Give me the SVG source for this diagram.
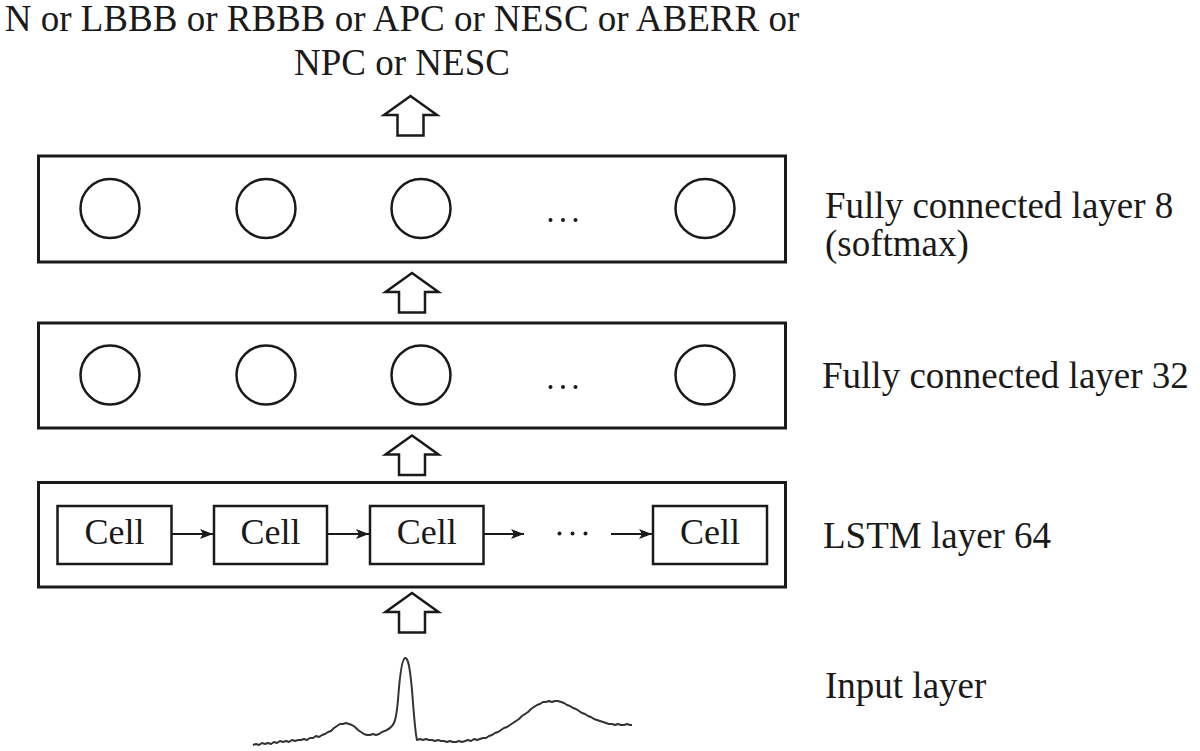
<svg xmlns="http://www.w3.org/2000/svg" width="1200" height="751" viewBox="0 0 1200 751">
<style>
.box{fill:none;stroke:#1a1a1a;stroke-width:3}
.cell{fill:none;stroke:#1a1a1a;stroke-width:2.5}
.neuron{fill:none;stroke:#1a1a1a;stroke-width:2.5}
.t{font-family:"Liberation Serif","Times New Roman",serif;fill:#1a1a1a;font-size:37px}
.ct{font-family:"Liberation Serif","Times New Roman",serif;fill:#1a1a1a;font-size:36px;text-anchor:middle}
.up{fill:#fff;stroke:#1a1a1a;stroke-width:2.5;stroke-linejoin:miter}
.con{stroke:#1a1a1a;stroke-width:2;fill:none}
.dot{fill:#1a1a1a}
</style>
<defs>
<marker id="ah" markerWidth="13" markerHeight="10" refX="13" refY="5" orient="auto" markerUnits="userSpaceOnUse">
<path d="M0,0 L13,5 L0,10 L3,5 Z" fill="#1a1a1a"/>
</marker>
<path id="uparrow" d="M0,0 L26.5,19 L13,19 L13,39.5 L-13,39.5 L-13,19 L-26.5,19 Z"/>
</defs>

<g id="output-label">
<text class="t" x="402" y="31" text-anchor="middle">N or LBBB or RBBB or APC or NESC or ABERR or</text>
<text class="t" x="402" y="75" text-anchor="middle">NPC or NESC</text>
</g>

<g id="fc8">
<rect class="box" x="38.5" y="156" width="747" height="106"/>
<circle class="neuron" cx="110" cy="208.5" r="29.5"/>
<circle class="neuron" cx="266" cy="208.5" r="29.5"/>
<circle class="neuron" cx="421" cy="208.5" r="29.5"/>
<circle class="dot" cx="550.5" cy="220" r="2"/>
<circle class="dot" cx="563" cy="220" r="2"/>
<circle class="dot" cx="575.5" cy="220" r="2"/>
<circle class="neuron" cx="705" cy="208.5" r="29.5"/>
</g>
<g id="fc8-label">
<text class="t" x="825" y="218">Fully connected layer 8</text>
<text class="t" x="825" y="256">(softmax)</text>
</g>

<g id="fc32">
<rect class="box" x="38.5" y="323" width="747" height="105"/>
<circle class="neuron" cx="110" cy="375" r="29.5"/>
<circle class="neuron" cx="266" cy="375" r="29.5"/>
<circle class="neuron" cx="421" cy="375" r="29.5"/>
<circle class="dot" cx="550.5" cy="387" r="2"/>
<circle class="dot" cx="563" cy="387" r="2"/>
<circle class="dot" cx="575.5" cy="387" r="2"/>
<circle class="neuron" cx="705" cy="375" r="29.5"/>
</g>
<g id="fc32-label">
<text class="t" x="822" y="388">Fully connected layer 32</text>
</g>

<g id="lstm">
<rect class="box" x="38.5" y="482.5" width="747" height="104.5"/>
<g id="cell1"><rect class="cell" x="57.5" y="506" width="114" height="58"/><text class="ct" x="114.5" y="544">Cell</text></g>
<g id="cell2"><rect class="cell" x="214" y="506" width="113" height="58"/><text class="ct" x="270.5" y="544">Cell</text></g>
<g id="cell3"><rect class="cell" x="370" y="506" width="113.5" height="58"/><text class="ct" x="426.75" y="544">Cell</text></g>
<circle class="dot" cx="559.5" cy="533.5" r="2"/>
<circle class="dot" cx="572.5" cy="533.5" r="2"/>
<circle class="dot" cx="585.5" cy="533.5" r="2"/>
<g id="cell4"><rect class="cell" x="653" y="506" width="114" height="58"/><text class="ct" x="710" y="544">Cell</text></g>
</g>
<g id="lstm-label">
<text class="t" x="823" y="548">LSTM layer 64</text>
</g>

<g id="input">
<path fill="none" stroke="#333" stroke-width="2" stroke-linejoin="round" d="M253,745 l3,-1 l3,1 l3,-2 l3,1 l3,-1 l3,1 l3,-2 l3,1 l3,-2 l3,1 l3,-1 l3,1 l3,-2 l3,1 l3,-1 l3,0 l3,-1 l3,1 l3,-2 l3,0 l3,-2 l3,1 l3,-2 l3,-1 l3,-2 l3,-1 l3,-3 l3,-2 l3,-2 l3,0 l3,-1 l3,1 l3,1 l3,2 l3,3 l3,2 l3,2 l3,1 l3,0 l3,-1 l3,1 l3,-1 l3,-2 C395,728 396,722 398,700 C400,672 402,659 405,658 C408,657 410,668 412,690 C414,715 415,732 417,740 l3,-1 l3,1 l3,-1 l3,1 l3,0 l3,1 l3,-1 l3,1 l3,0 l3,1 l3,-1 l3,1 l3,0 l3,-1 l3,1 l3,-1 l3,-1 l3,1 l3,-2 l3,1 l3,-1 l3,-1 l3,0 l3,-2 l3,-1 l3,-2 l3,-1 l3,-2 l3,-2 l3,-1 l3,-2 l3,-2 l3,-2 l3,-2 l3,-3 l3,-2 l3,-2 l3,-3 l3,-2 l3,-2 l3,-1 l3,-2 l3,0 l3,-1 l3,1 l3,-1 l3,0 l3,1 l3,1 l3,2 l3,1 l3,2 l3,1 l3,2 l3,2 l3,1 l3,2 l3,1 l3,2 l3,1 l3,1 l3,1 l3,1 l3,1 l3,0 l3,1 l3,-1 l3,1 l3,0 l3,-1 l3,1 l2,0"/>
</g>
<g id="input-label">
<text class="t" x="825" y="698">Input layer</text>
</g>

<g id="connectors">
<use href="#uparrow" class="up" x="410.5" y="96"/>
<use href="#uparrow" class="up" x="412" y="273"/>
<use href="#uparrow" class="up" x="412" y="435.5"/>
<use href="#uparrow" class="up" x="412" y="593"/>
<line class="con" x1="172" y1="534" x2="213" y2="534" marker-end="url(#ah)"/>
<line class="con" x1="327" y1="534" x2="369" y2="534" marker-end="url(#ah)"/>
<line class="con" x1="484" y1="534" x2="524" y2="534" marker-end="url(#ah)"/>
<line class="con" x1="611" y1="534" x2="652" y2="534" marker-end="url(#ah)"/>
</g>
</svg>
